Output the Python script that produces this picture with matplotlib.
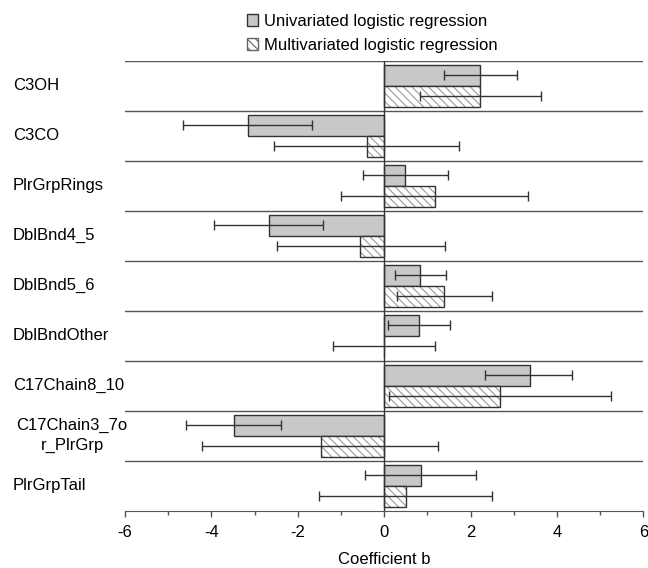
import matplotlib
matplotlib.use("Agg")
import matplotlib.pyplot as plt
import matplotlib.transforms as mtransforms
from matplotlib.patches import Patch
import numpy as np

# -----------------------------
# Data
# -----------------------------
labels = ["C3OH", "C3CO", "PlrGrpRings", "DblBnd4_5", "DblBnd5_6",
          "DblBndOther", "C17Chain8_10", "C17Chain3_7o\nr_PlrGrp", "PlrGrpTail"]

uni_coef = [2.23, -3.15, 0.48, -2.67, 0.84, 0.81, 3.37, -3.48, 0.85]
uni_low = [1.38, -4.65, -0.48, -3.94, 0.26, 0.08, 2.34, -4.59, -0.45]
uni_high = [3.08, -1.68, 1.47, -1.41, 1.44, 1.53, 4.35, -2.38, 2.12]

multi_coef = [2.23, -0.39, 1.18, -0.55, 1.39, 0.0, 2.68, -1.47, 0.51]
multi_low = [0.84, -2.56, -1.00, -2.47, 0.29, -1.19, 0.12, -4.22, -1.50]
multi_high = [3.64, 1.73, 3.34, 1.41, 2.49, 1.18, 5.26, 1.24, 2.49]

plt.rcParams["font.family"] = ["Liberation Sans", "DejaVu Sans"]
plt.rcParams["hatch.linewidth"] = 0.8

fig = plt.figure(figsize=(6.48, 5.68), dpi=100)
ax = fig.add_axes([125 / 648, 1 - 510.7 / 568, 518.3 / 648, 450 / 568])

y = np.arange(len(labels))
h = 0.42
line_col = "#555555"
edge_col = "#333333"
fs = 12

# univariate bars (grey)
ax.barh(y - h / 2, uni_coef, height=h, color="#c8c8c8", edgecolor=edge_col,
        linewidth=1, zorder=2)

# multivariate bars (hatched): hatch drawn in light grey, outline drawn on top
ax.barh(y + h / 2, multi_coef, height=h, color="white", edgecolor="#999999",
        hatch="\\\\\\\\", linewidth=0, zorder=2)
ax.barh(y + h / 2, multi_coef, height=h, color="none", edgecolor=edge_col,
        linewidth=1, zorder=3)

# error bars (asymmetric confidence intervals)
uni_err = [np.array(uni_coef) - np.array(uni_low), np.array(uni_high) - np.array(uni_coef)]
multi_err = [np.array(multi_coef) - np.array(multi_low), np.array(multi_high) - np.array(multi_coef)]
ax.errorbar(uni_coef, y - h / 2, xerr=uni_err, fmt="none", ecolor=edge_col,
            elinewidth=1, capsize=3.5, capthick=1, zorder=4)
ax.errorbar(multi_coef, y + h / 2, xerr=multi_err, fmt="none", ecolor=edge_col,
            elinewidth=1, capsize=3.5, capthick=1, zorder=4)

# row separators and zero line
for b in np.arange(-0.5, len(labels) - 0.5, 1.0):
    ax.axhline(b, color=line_col, lw=1, zorder=1)
ax.axvline(0, color=edge_col, lw=1, zorder=5)

ax.set_ylim(len(labels) - 0.5, -0.5)
ax.set_xlim(-6, 6)
ax.set_yticks([])
ax.set_xticks(np.arange(-6, 7, 2))
ax.set_xticklabels([str(v) for v in range(-6, 7, 2)])
ax.set_xticks(np.arange(-5, 6, 2), minor=True)
ax.tick_params(axis="x", which="major", length=4, width=1, color=line_col,
               labelsize=fs, pad=6)
ax.tick_params(axis="x", which="minor", length=3, width=1, color=line_col)
for s in ["left", "right", "top"]:
    ax.spines[s].set_visible(False)
ax.spines["bottom"].set_color(line_col)
ax.set_xlabel("Coefficient b", fontsize=fs, labelpad=9)

# row labels in the left margin
trans = mtransforms.blended_transform_factory(fig.transFigure, ax.transData)
for i, lab in enumerate(labels):
    if "\n" in lab:
        ax.text(72 / 648, i, lab, transform=trans, ha="center", va="center",
                multialignment="center", fontsize=fs, linespacing=1.4)
    else:
        ax.text(13 / 648, i, lab, transform=trans, ha="left", va="center",
                fontsize=fs)

# legend at the top
handles = [
    Patch(facecolor="#c8c8c8", edgecolor=edge_col, label="Univariated logistic regression"),
    Patch(facecolor="white", edgecolor="#666666", hatch="\\\\\\\\",
          label="Multivariated logistic regression"),
]
fig.legend(handles=handles, loc="upper left", bbox_to_anchor=(245 / 648, 1 - 12 / 568),
           frameon=False, fontsize=fs, handlelength=0.7, handleheight=0.7,
           handletextpad=0.35, labelspacing=0.55, borderaxespad=0, borderpad=0.1)

fig.savefig("out.png", dpi=100)
